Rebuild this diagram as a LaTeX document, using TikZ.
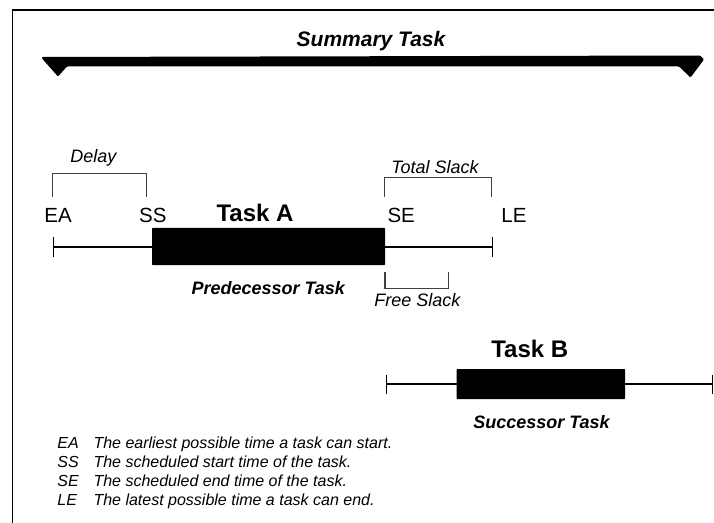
\documentclass[tikz,border=0pt]{standalone}
\usepackage{fontspec}
\setmainfont{Liberation Sans}
\usetikzlibrary{arrows.meta}

\newcommand{\fsz}[1]{\fontsize{#1bp}{#1bp}\selectfont}

\tikzset{
    taskbar/.style={fill=black, inner sep=0pt, outer sep=0pt, rounded corners=0.6bp},
    bracket/.style={draw=black!75, line width=1.1bp},
    timeline/.style={line width=1.6bp, {Bar[width=19bp,line width=1.6bp]}-{Bar[width=19bp,line width=1.6bp]}},
    point/.style={font=\fsz{20.5}},
    slack/.style={font=\fsz{18}\itshape},
    role/.style={font=\fsz{18}\bfseries\itshape},
    title/.style={font=\fsz{24}\bfseries},
    legend/.style={font=\fsz{16}\itshape, anchor=base west, inner sep=0pt},
}

\begin{document}
\begin{tikzpicture}[x=1bp,y=-1bp]
    \useasboundingbox (0,0) rectangle (714,523);

    % frame, open at right and bottom
    \draw [line width=1.8bp] (714,10) -- (12.5,10) -- (12.5,523);

    % summary task
    \node (summary) at (371,41) {\fsz{21}\bfseries\itshape Summary Task};
    \fill [rounded corners=1bp] (42,57) -- (700,55.5) -- (704,59.5) -- (690.5,77.5) -- (679,66.5)
        -- (67,66.5) -- (58,76.5) -- (42,58.5) -- cycle;

    % task A
    \coordinate (ea) at (52.7,247);
    \coordinate (le) at (493.3,247);
    \draw [timeline] (ea) -- (le);
    \node (taskA) [taskbar, minimum width=233bp, minimum height=37bp, anchor=north west] at (152,228) {};

    \node (taskAtitle) [title] at (255,213) {Task A};
    \node (predecessor) [role] at (268.3,288.3) {Predecessor Task};

    \node (eaLabel) [point] at (58,215) {EA};
    \node (ssLabel) [point] at (152.8,215) {SS};
    \node (seLabel) [point] at (401.2,215) {SE};
    \node (leLabel) [point] at (514,215) {LE};

    % delay and slack brackets
    \draw [bracket] (52.7,196.7) |- (146.7,173.3) -- (146.7,196.7);
    \node (delay) [slack] at (93.5,157.5) {Delay};

    \draw [bracket] (384.7,196.7) |- (491.3,177.3) -- (491.3,196.7);
    \node (totalSlack) [slack] at (435,167.5) {Total Slack};

    \draw [bracket] (385,272.3) |- (448.3,288.3) -- (448.3,272.3);
    \node (freeSlack) [slack] at (417.3,300) {Free Slack};

    % task B
    \coordinate (tbStart) at (385.7,384);
    \coordinate (tbEnd) at (713.3,384);
    \draw [timeline] (tbStart) -- (tbEnd);
    \node (taskB) [taskbar, minimum width=168.3bp, minimum height=30bp, anchor=north west] at (456.7,369) {};

    \node (taskBtitle) [title] at (529.8,349.2) {Task B};
    \node (successor) [role] at (541.5,422.2) {Successor Task};

    % legend
    \foreach \abbr/\txt [count=\i] in {EA/The earliest possible time a task can start.,
                                       SS/The scheduled start time of the task.,
                                       SE/The scheduled end time of the task.,
                                       LE/The latest possible time a task can end.}
    {
        \node (key\i) [legend] at (57.3,429+19*\i) {\abbr};
        \node (def\i) [legend] at (93.3,429+19*\i) {\txt};
    }
\end{tikzpicture}
\end{document}
